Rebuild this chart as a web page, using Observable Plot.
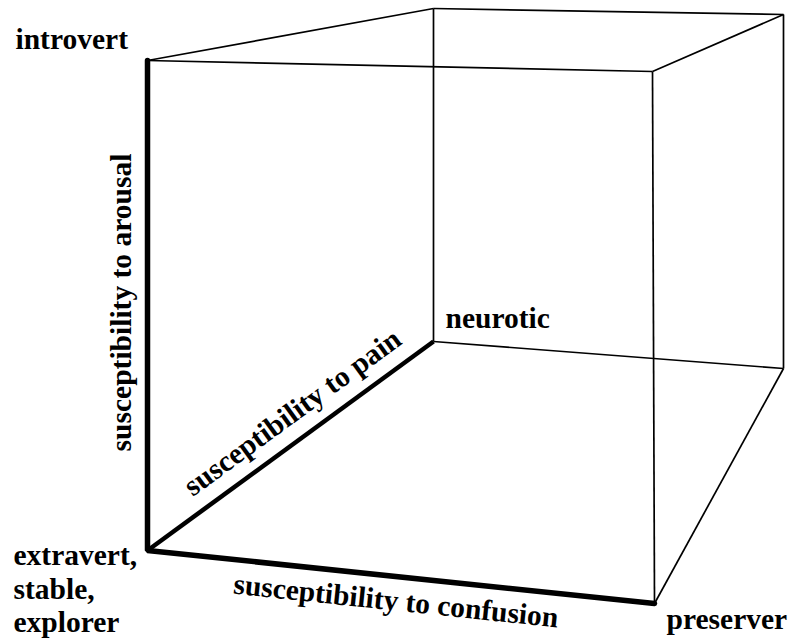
<!DOCTYPE html>
<html><head><meta charset="utf-8">
<script src="https://cdn.jsdelivr.net/npm/d3@7"></script>
<script src="https://cdn.jsdelivr.net/npm/@observablehq/plot@0.6"></script>
<style>html,body{margin:0;padding:0;background:#fff;overflow:hidden;}</style>
</head><body><div id="chart"></div>
<script>
// Cube corners (pixel space of the diagram)
const cornerNames = ["origin","arousalTop","confusionEnd","frontTopRight","painEnd","backTopLeft","backBottomRight","backTopRight"];
const cornerX = [147, 147, 654, 652, 433, 433, 783, 783];
const cornerY = [550, 60, 603, 71, 341, 8, 368, 14];

// The three axes (drawn heavy)
const axisFrom = ["origin", "origin", "origin"];
const axisTo = ["arousalTop", "confusionEnd", "painEnd"];
const axisNames = ["susceptibility to arousal", "susceptibility to confusion", "susceptibility to pain"];

// Remaining cube edges (drawn thin)
const edgeFrom = ["arousalTop","frontTopRight","arousalTop","backTopLeft","backTopLeft","painEnd","backBottomRight","frontTopRight","confusionEnd"];
const edgeTo = ["frontTopRight","confusionEnd","backTopLeft","painEnd","backTopRight","backBottomRight","backTopRight","backTopRight","backBottomRight"];

// Corner labels
const cornerLabels = ["introvert", "neurotic", "preserver", "extravert,\nstable,\nexplorer"];
const cornerLabelAt = ["arousalTop", "painEnd", "confusionEnd", "origin"];

const pos = new Map(cornerNames.map((n, i) => [n, {x: cornerX[i], y: cornerY[i]}]));
const edges = edgeFrom.map((f, i) => ({x1: pos.get(f).x, y1: pos.get(f).y, x2: pos.get(edgeTo[i]).x, y2: pos.get(edgeTo[i]).y}));
const axes = axisFrom.map((f, i) => {
  const a = pos.get(f), b = pos.get(axisTo[i]);
  return {name: axisNames[i], x1: a.x, y1: a.y, x2: b.x, y2: b.y, mx: (a.x + b.x) / 2, my: (a.y + b.y) / 2,
          angle: Math.atan2(b.y - a.y, b.x - a.x) * 180 / Math.PI};
});
const corners = cornerLabels.map((t, i) => ({text: t, ...pos.get(cornerLabelAt[i])}));

const font = {fontFamily: "Liberation Serif, Times New Roman, serif", fontWeight: "bold", fontSize: 29.5, fill: "black"};
const ax = Object.fromEntries(axes.map(d => [d.name, d]));
const cn = Object.fromEntries(corners.map(d => [d.text, d]));

const chart = Plot.plot({
  width: 789, height: 639,
  marginTop: 0, marginRight: 0, marginBottom: 0, marginLeft: 0,
  x: {domain: [0, 789], range: [0, 789], axis: null},
  y: {domain: [0, 639], range: [0, 639], axis: null},
  style: {background: "white"},
  marks: [
    Plot.link(edges, {x1: "x1", y1: "y1", x2: "x2", y2: "y2", stroke: "black", strokeWidth: 1.7}),
    Plot.line([pos.get("arousalTop"), pos.get("origin"), pos.get("confusionEnd")], {x: "x", y: "y", stroke: "black", strokeWidth: 5.5, strokeLinejoin: "miter", curve: "linear"}),
    Plot.link([axes[2]], {x1: "x1", y1: "y1", x2: "x2", y2: "y2", stroke: "black", strokeWidth: 4.5}),
    // corner labels
    Plot.text([cn["introvert"]], {x: "x", y: "y", text: "text", textAnchor: "start", lineAnchor: "bottom", dx: -132, dy: -12, ...font}),
    Plot.text([cn["neurotic"]], {x: "x", y: "y", text: "text", textAnchor: "start", lineAnchor: "bottom", dx: 12, dy: -14, ...font}),
    Plot.text([cn["preserver"]], {x: "x", y: "y", text: "text", textAnchor: "start", lineAnchor: "bottom", dx: 12, dy: 25, ...font}),
    Plot.text([cn["extravert,\nstable,\nexplorer"]], {x: "x", y: "y", text: "text", textAnchor: "start", lineAnchor: "top", lineHeight: 1.13, dx: -134, dy: -9, ...font}),
    // axis labels
    Plot.text([ax["susceptibility to arousal"]], {x: "mx", y: "my", text: "name", rotate: -90, textAnchor: "middle", lineAnchor: "bottom", dx: -17, dy: -3, ...font}),
    Plot.text([ax["susceptibility to confusion"]], {x: "mx", y: "my", text: "name", rotate: ax["susceptibility to confusion"].angle, textAnchor: "middle", lineAnchor: "bottom", dx: -6, dy: 33.5, ...font}),
    Plot.text([ax["susceptibility to pain"]], {x: "mx", y: "my", text: "name", rotate: ax["susceptibility to pain"].angle, textAnchor: "middle", lineAnchor: "middle", dx: 2, dy: -33.5, ...font})
  ]
});
document.getElementById("chart").append(chart);
</script>
</body></html>
